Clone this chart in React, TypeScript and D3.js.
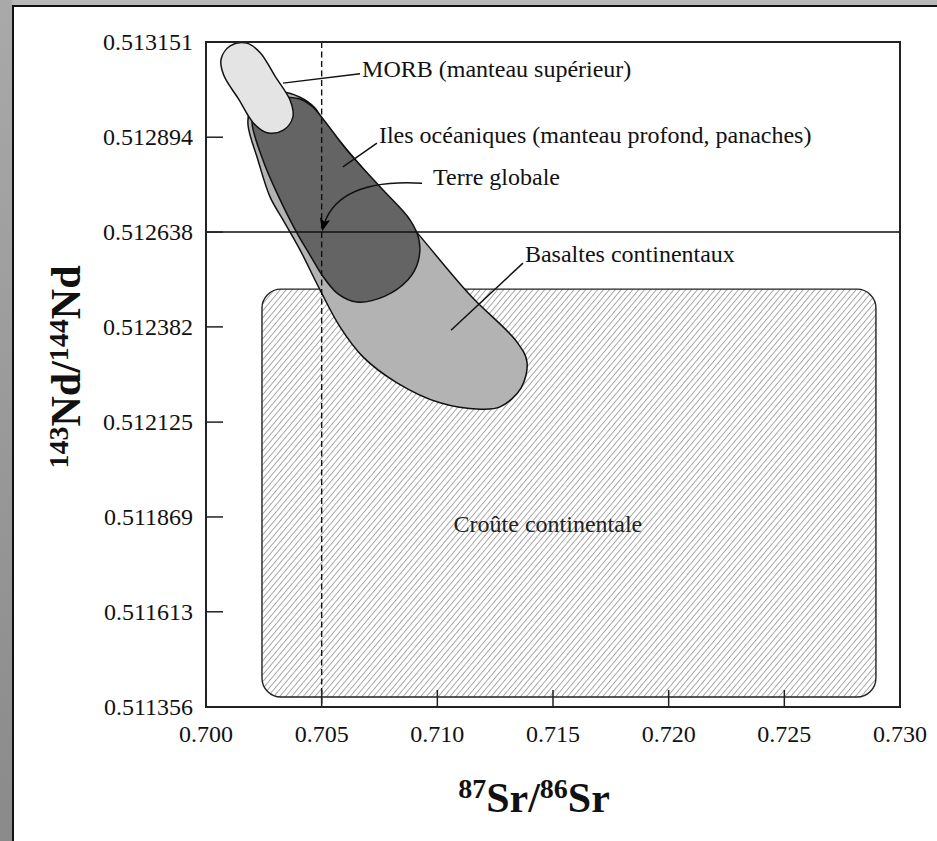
import React from "react";
import * as d3 from "d3";

// Isotope axes: 87Sr/86Sr (x) and 143Nd/144Nd (y)
const xTicks = [0.7, 0.705, 0.71, 0.715, 0.72, 0.725, 0.73];
const yTicks = [0.511356, 0.511613, 0.511869, 0.512125, 0.512382, 0.512638, 0.512894, 0.513151];

// Bulk Earth reference values
const bulkEarthSr = 0.705;
const bulkEarthNd = 0.512638;

// Field outlines as [87Sr/86Sr, 143Nd/144Nd]
const morbField: [number, number][] = [
  [0.700769, 0.513061], [0.700653, 0.513105], [0.701063, 0.513141], [0.701764, 0.513148],
  [0.702343, 0.513122], [0.702991, 0.513058], [0.70364, 0.512993], [0.703757, 0.512949],
  [0.703346, 0.512913], [0.702646, 0.512906], [0.702066, 0.512931], [0.701418, 0.512996],
];

const oceanIslandField: [number, number][] = [
  [0.703415, 0.513002], [0.704063, 0.512997], [0.704582, 0.512978], [0.705101, 0.51294],
  [0.706095, 0.512859], [0.707522, 0.51276], [0.708819, 0.512671], [0.709208, 0.512617],
  [0.709164, 0.512557], [0.708732, 0.512509], [0.707738, 0.512465], [0.706527, 0.512449],
  [0.705706, 0.512471], [0.705014, 0.512522], [0.704496, 0.512576], [0.703934, 0.512635],
  [0.703069, 0.512743], [0.702464, 0.512832], [0.701988, 0.512935], [0.702161, 0.512973],
  [0.70268, 0.513],
];

const continentalBasaltField: [number, number][] = [
  [0.703285, 0.513016], [0.704063, 0.513002], [0.704712, 0.512973], [0.705101, 0.512935],
  [0.706657, 0.512819], [0.709251, 0.512627], [0.711412, 0.512468], [0.713444, 0.512341],
  [0.713876, 0.512287], [0.713617, 0.512217], [0.712709, 0.512166], [0.711845, 0.51216],
  [0.710115, 0.512177], [0.708257, 0.512231], [0.706787, 0.512301], [0.705793, 0.512382],
  [0.704928, 0.512482], [0.704063, 0.51259], [0.703329, 0.512671], [0.702767, 0.512733],
  [0.702248, 0.512832], [0.701816, 0.512927], [0.701902, 0.512967], [0.70255, 0.513008],
];

// Continental crust range: [srMin, srMax] and [ndMin, ndMax]
const crustSr = [0.70242, 0.72896];
const crustNd = [0.511383, 0.512484];

// Annotation labels with leader lines [from, to]
const morbLabel = "MORB (manteau supérieur)";
const morbLeader: [number, number][] = [[0.70333, 0.51304], [0.70666, 0.513065]];
const oibLabel = "Iles océaniques (manteau profond, panaches)";
const oibLeader: [number, number][] = [[0.70592, 0.512814], [0.70739, 0.512878]];
const earthLabel = "Terre globale";
const earthArrowStart: [number, number] = [0.70934, 0.51277];
const basaltLabel = "Basaltes continentaux";
const basaltLeader: [number, number][] = [[0.71059, 0.512373], [0.7137, 0.512554]];
const crustLabel = "Croûte continentale";
const crustLabelAt: [number, number] = [0.71478, 0.511828];

const W = 937;
const H = 841;
const M = { left: 206, right: 900, top: 42, bottom: 707 };
const FONT = "'Liberation Serif', 'Times New Roman', serif";

export default function App() {
  const x = d3.scaleLinear().domain([0.7, 0.73]).range([M.left, M.right]);
  const y = d3.scaleLinear().domain([0.511356, 0.513151]).range([M.bottom, M.top]);

  const field = d3
    .line<[number, number]>()
    .x((d) => x(d[0]))
    .y((d) => y(d[1]))
    .curve(d3.curveCatmullRomClosed.alpha(0.5));

  const seg = (p: [number, number][]) => ({ x1: x(p[0][0]), y1: y(p[0][1]), x2: x(p[1][0]), y2: y(p[1][1]) });

  // curved arrow from the "Terre globale" label down to the bulk Earth point
  const ax0 = x(earthArrowStart[0]);
  const ay0 = y(earthArrowStart[1]);
  const ax1 = x(bulkEarthSr);
  const ay1 = y(bulkEarthNd);
  const arrowPath = d3.path();
  arrowPath.moveTo(ax0, ay0);
  arrowPath.quadraticCurveTo(ax1 + (ax0 - ax1) * 0.13, ay0 - 5, ax1 + 1, ay1 - 3);

  const mL = seg(morbLeader);
  const oL = seg(oibLeader);
  const bL = seg(basaltLeader);

  return (
    <svg
      width={W}
      height={H}
      style={{ position: "absolute", left: 0, top: 0, background: "#fff" }}
      fontFamily={FONT}
    >
      <defs>
        <pattern id="hatch" patternUnits="userSpaceOnUse" width={4.5} height={10} patternTransform="rotate(40)">
          <line x1={0.5} y1={0} x2={0.5} y2={10} stroke="#8c8c8c" strokeWidth={0.8} />
        </pattern>
        <linearGradient id="sideShade" x1="0" y1="0" x2="0" y2="1">
          <stop offset="0" stopColor="#a9a9a9" />
          <stop offset="1" stopColor="#8a8a8a" />
        </linearGradient>
        <marker id="arrowHead" viewBox="0 0 12 10" refX={10} refY={5} markerWidth={13} markerHeight={11} orient="auto" markerUnits="userSpaceOnUse">
          <path d="M0,0 L12,5 L0,10 L3,5 z" fill="#000" />
        </marker>
      </defs>

      {/* window frame */}
      <rect x={0} y={0} width={W} height={H} fill="#fff" />
      <rect x={0} y={0} width={W} height={5} fill="#b8b8b8" />
      <rect x={0} y={0} width={12} height={H} fill="url(#sideShade)" />
      <line x1={12} y1={6} x2={W} y2={6} stroke="#111" strokeWidth={2} />
      <line x1={13} y1={5} x2={13} y2={H} stroke="#111" strokeWidth={2} />

      {/* continental crust field */}
      <rect
        x={x(crustSr[0])}
        y={y(crustNd[1])}
        width={x(crustSr[1]) - x(crustSr[0])}
        height={y(crustNd[0]) - y(crustNd[1])}
        rx={19}
        ry={19}
        fill="url(#hatch)"
        stroke="#222"
        strokeWidth={1.4}
      />

      {/* mantle-derived fields */}
      <path d={field(continentalBasaltField) ?? ""} fill="#b3b3b3" stroke="#111" strokeWidth={1.5} />
      <path d={field(oceanIslandField) ?? ""} fill="#646464" stroke="#111" strokeWidth={1.5} />
      <path d={field(morbField) ?? ""} fill="#e4e4e4" stroke="#111" strokeWidth={1.5} />

      {/* bulk Earth reference lines */}
      <line x1={M.left} x2={M.right} y1={y(bulkEarthNd)} y2={y(bulkEarthNd)} stroke="#111" strokeWidth={1.5} />
      <line x1={x(bulkEarthSr)} x2={x(bulkEarthSr)} y1={M.top} y2={M.bottom} stroke="#111" strokeWidth={1.4} strokeDasharray="6 3.5" />

      {/* plot frame */}
      <rect x={M.left} y={M.top} width={M.right - M.left} height={M.bottom - M.top} fill="none" stroke="#222" strokeWidth={2} />

      {/* ticks */}
      {xTicks.map((t) => (
        <g key={"x" + t}>
          <line x1={x(t)} x2={x(t)} y1={M.bottom} y2={M.bottom - 17} stroke="#222" strokeWidth={1.5} />
          <text x={x(t)} y={742} textAnchor="middle" fontSize={24} fill="#111">
            {d3.format(".3f")(t)}
          </text>
        </g>
      ))}
      {yTicks.map((t) => (
        <g key={"y" + t}>
          <line x1={M.left} x2={M.left + 17} y1={y(t)} y2={y(t)} stroke="#222" strokeWidth={1.5} />
          <text x={M.left - 13} y={y(t) + 8} textAnchor="end" fontSize={24} fill="#111">
            {d3.format(".6f")(t)}
          </text>
        </g>
      ))}

      {/* annotations */}
      <g stroke="#111" strokeWidth={1.5} fill="none">
        <line {...mL} />
        <line {...oL} />
        <line {...bL} />
        <path d={arrowPath.toString()} markerEnd="url(#arrowHead)" />
      </g>
      <g fontSize={24} fill="#111">
        <text x={mL.x2 + 2} y={mL.y2 + 3}>{morbLabel}</text>
        <text x={oL.x2 + 2} y={oL.y2}>{oibLabel}</text>
        <text x={ax0 + 11} y={ay0 + 2}>{earthLabel}</text>
        <text x={bL.x2 + 2} y={bL.y2 - 1}>{basaltLabel}</text>
        <text x={x(crustLabelAt[0])} y={y(crustLabelAt[1])} textAnchor="middle" fill="#222">{crustLabel}</text>
      </g>

      {/* axis titles */}
      <text x={534} y={812} textAnchor="middle" fontWeight="bold" fontSize={42} fill="#111">
        <tspan fontSize={28} dy={-14}>87</tspan>
        <tspan dy={14}>Sr/</tspan>
        <tspan fontSize={28} dy={-14}>86</tspan>
        <tspan dy={14}>Sr</tspan>
      </text>
      <text transform="translate(80,367) rotate(-90)" textAnchor="middle" fontWeight="bold" fontSize={42} fill="#111">
        <tspan fontSize={28} dy={-12}>143</tspan>
        <tspan dy={12}>Nd/</tspan>
        <tspan fontSize={28} dy={-12}>144</tspan>
        <tspan dy={12}>Nd</tspan>
      </text>
    </svg>
  );
}
